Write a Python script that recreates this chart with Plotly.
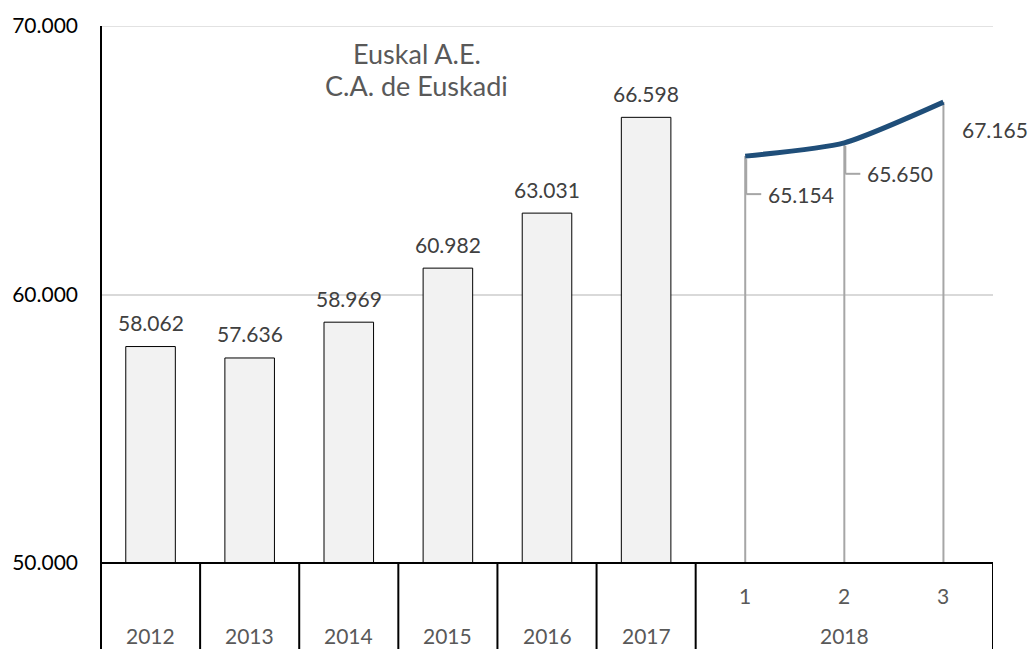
import plotly.graph_objects as go

# ---- data ----
years = ["2012", "2013", "2014", "2015", "2016", "2017"]
year_values = [58062, 57636, 58969, 60982, 63031, 66598]
quarter_year = "2018"
quarters = ["1", "2", "3"]
quarter_values = [65154, 65650, 67165]
title_lines = ["Euskal A.E.", "C.A. de Euskadi"]
y_ticks = [50000, 60000, 70000]

FONT = "Lato"
n_years = len(years)
bar_x = list(range(n_years))
q_x = [n_years + i for i in range(len(quarters))]

def fmt(v):
    return f"{v:,}".replace(",", ".")

fig = go.Figure()

fig.add_trace(go.Bar(
    x=bar_x, y=year_values, width=0.5,
    marker=dict(color="#F2F2F2", line=dict(color="#000000", width=1)),
    hoverinfo="skip", showlegend=False,
))

# drop lines for the 2018 series
dx, dy = [], []
for x, v in zip(q_x, quarter_values):
    dx += [x, x, None]
    dy += [y_ticks[0], v, None]
fig.add_trace(go.Scatter(x=dx, y=dy, mode="lines",
                         line=dict(color="#A6A6A6", width=2),
                         hoverinfo="skip", showlegend=False))

fig.add_trace(go.Scatter(
    x=q_x, y=quarter_values, mode="lines",
    line=dict(color="#1F4E79", width=5, shape="spline", smoothing=0.6),
    hoverinfo="skip", showlegend=False,
))

annotations = []
# bar labels
for x, v in zip(bar_x, year_values):
    annotations.append(dict(x=x, y=v, xref="x", yref="y", text=fmt(v),
                            showarrow=False, yanchor="middle", yshift=24,
                            font=dict(family=FONT, size=21, color="#404040")))
# line labels with leader ticks
offsets = [(56, -38, True), (56, -31, True), (52, -27, False)]
shapes = []
for x, v, (xs, ys, leader) in zip(q_x, quarter_values, offsets):
    annotations.append(dict(x=x, y=v, xref="x", yref="y", text=fmt(v),
                            showarrow=False, xshift=xs, yshift=ys,
                            font=dict(family=FONT, size=21, color="#404040")))
    if leader:
        shapes.append(dict(type="line", xref="x", yref="y",
                           xsizemode="pixel", ysizemode="pixel",
                           xanchor=x, yanchor=v,
                           x0=1, x1=1, y0=-3, y1=ys,
                           line=dict(color="#A6A6A6", width=2)))
        shapes.append(dict(type="line", xref="x", yref="y",
                           xsizemode="pixel", ysizemode="pixel",
                           xanchor=x, yanchor=v,
                           x0=1, x1=16, y0=ys, y1=ys,
                           line=dict(color="#A6A6A6", width=2)))

# category table labels
for x, lab in zip(q_x, quarters):
    annotations.append(dict(x=x, y=0, xref="x", yref="paper", text=lab,
                            showarrow=False, yanchor="middle", yshift=-32,
                            font=dict(family=FONT, size=21, color="#595959")))
for x, lab in zip(bar_x, years):
    annotations.append(dict(x=x, y=0, xref="x", yref="paper", text=lab,
                            showarrow=False, yanchor="middle", yshift=-72,
                            font=dict(family=FONT, size=21, color="#595959")))
annotations.append(dict(x=q_x[len(q_x) // 2], y=0, xref="x", yref="paper",
                        text=quarter_year, showarrow=False, yanchor="middle",
                        yshift=-72,
                        font=dict(family=FONT, size=21, color="#595959")))

# title (two lines)
for i, line in enumerate(title_lines):
    annotations.append(dict(x=0.354, y=1, xref="paper", yref="paper",
                            text=line, showarrow=False,
                            xanchor="center", yanchor="middle",
                            yshift=-27 - 32 * i,
                            font=dict(family=FONT, size=27, color="#595959")))

# table lines / axis lines
shapes.append(dict(type="line", xref="paper", yref="y", x0=0, x1=1,
                   y0=y_ticks[-1], y1=y_ticks[-1],
                   line=dict(color="#D9D9D9", width=1.5), layer="below"))
shapes.append(dict(type="line", xref="paper", yref="paper", x0=0, x1=1, y0=0, y1=0,
                   line=dict(color="#000000", width=2), layer="above"))
shapes.append(dict(type="line", xref="paper", yref="paper", x0=0, x1=0, y0=1, y1=-0.3,
                   line=dict(color="#000000", width=2), layer="above"))
for b in [i + 0.5 for i in range(n_years)] + [q_x[-1] + 0.5]:
    shapes.append(dict(type="line", xref="x", yref="paper", x0=b, x1=b, y0=0, y1=-0.3,
                       line=dict(color="#000000", width=2), layer="above"))

fig.update_layout(
    width=1030, height=649, autosize=False,
    margin=dict(l=100, r=37, t=24, b=86),
    paper_bgcolor="white", plot_bgcolor="white",
    separators=",.",
    xaxis=dict(range=[-0.5, q_x[-1] + 0.5], showticklabels=False, showgrid=False,
               zeroline=False, showline=False, fixedrange=True),
    yaxis=dict(range=[y_ticks[0], y_ticks[-1]], tickvals=y_ticks,
               ticktext=[fmt(v) for v in y_ticks], showgrid=True,
               gridcolor="#D9D9D9", gridwidth=1.5, zeroline=False, showline=False,
               ticks="", ticklabelstandoff=22, fixedrange=True,
               tickfont=dict(family=FONT, size=21, color="#000000")),
    annotations=annotations, shapes=shapes,
    showlegend=False,
)

fig.write_html("out.html", config={"displayModeBar": False})

# remove the default page margin so the figure sits at the top-left corner
with open("out.html", encoding="utf-8") as f:
    html = f.read()
html = html.replace("<body>", '<body style="margin:0;padding:0;overflow:hidden">', 1)
with open("out.html", "w", encoding="utf-8") as f:
    f.write(html)
